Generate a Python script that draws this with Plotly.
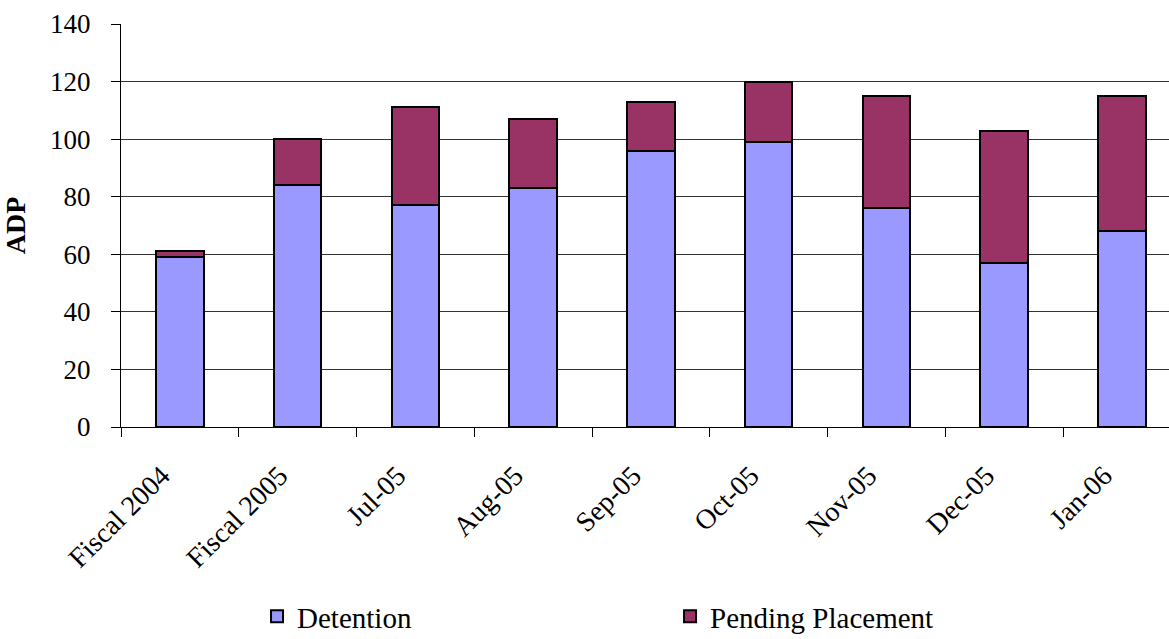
import plotly.graph_objects as go

categories = ["Fiscal 2004", "Fiscal 2005", "Jul-05", "Aug-05", "Sep-05", "Oct-05", "Nov-05", "Dec-05", "Jan-06"]
detention = [59, 84, 77, 83, 96, 99, 76, 57, 68]
pending = [2, 16, 34, 24, 17, 21, 39, 46, 47]
y_ticks = [0, 20, 40, 60, 80, 100, 120, 140]

font_family = "Liberation Serif, Times New Roman, serif"

fig = go.Figure()
fig.add_trace(go.Bar(x=categories, y=detention, name="Detention",
                     marker=dict(color="#9999FF", line=dict(color="black", width=2)),
                     width=0.405, legend="legend"))
fig.add_trace(go.Bar(x=categories, y=pending, name="Pending Placement",
                     marker=dict(color="#993366", line=dict(color="black", width=2)),
                     width=0.405, legend="legend2"))

legend_common = dict(orientation="h", yanchor="middle", xanchor="left", y=-0.47,
                     font=dict(family=font_family, size=29, color="black"),
                     bgcolor="rgba(0,0,0,0)", borderwidth=0)

fig.update_layout(
    barmode="stack",
    width=1169, height=639,
    margin=dict(l=121, r=0, t=24, b=212, autoexpand=False),
    paper_bgcolor="white", plot_bgcolor="white",
    font=dict(family=font_family, size=27, color="black"),
    showlegend=True,
    legend=dict(x=0.1298, **legend_common),
    legend2=dict(x=0.5239, **legend_common),
    xaxis=dict(range=[-0.5, 8.4], type="category", tickangle=-45, automargin=False,
               tickson="boundaries", ticks="outside", ticklen=9, tickcolor="black",
               ticklabelstandoff=20, ticklabelshift=-18,
               showline=True, linecolor="black", linewidth=1,
               tickfont=dict(family=font_family, size=28, color="black"), showgrid=False),
    yaxis=dict(range=[0, 140], tickvals=y_ticks, ticks="outside", ticklen=9, automargin=False,
               ticklabelstandoff=15,
               tickcolor="black", showline=True, linecolor="black", linewidth=1,
               showgrid=True, gridcolor="#333333", gridwidth=1,
               tickfont=dict(family=font_family, size=27, color="black"),
               title=dict(text="<b>ADP</b>", font=dict(family=font_family, size=28, color="black"), standoff=18),
               zeroline=False),
)

fig.write_html("out.html", config={"displayModeBar": False},
               post_script="document.body.style.margin='0';")
